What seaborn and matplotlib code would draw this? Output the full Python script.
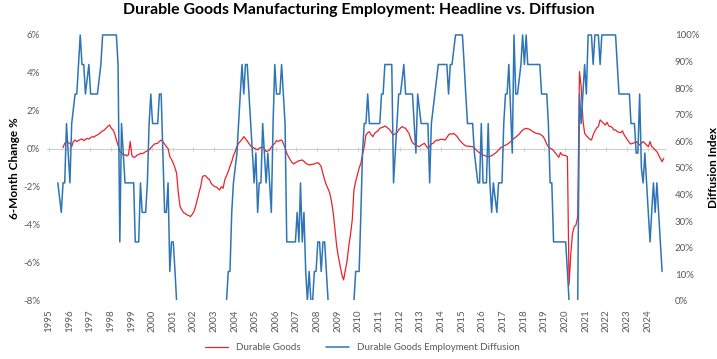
import pandas as pd
import matplotlib
matplotlib.use("Agg")
import matplotlib.pyplot as plt
import matplotlib.dates as mdates
import matplotlib.ticker as mtick
from matplotlib.transforms import Bbox, TransformedBbox
import seaborn as sns

# Durable goods employment, 6-month % change (monthly)
headline_start = "1995-09"
headline = [
    0.07, 0.30, 0.39, 0.33,                                                      # 1995 Sep-Dec
    0.30, 0.12, 0.39, 0.47, 0.39, 0.45, 0.50, 0.53, 0.44, 0.50, 0.56, 0.52,      # 1996
    0.60, 0.65, 0.62, 0.70, 0.74, 0.80, 0.88, 0.95, 1.00, 1.09, 1.20, 1.26,      # 1997
    1.09, 1.00, 0.82, 0.47, 0.20, -0.14, -0.20, -0.32, -0.30, -0.37, -0.30, 0.39,  # 1998
    -0.35, -0.44, -0.42, -0.32, -0.30, -0.23, -0.25, -0.20, -0.14, -0.10, -0.05, 0.05,  # 1999
    0.16, 0.26, 0.28, 0.30, 0.40, 0.47, 0.39, 0.25, 0.12, 0.03, -0.40, -0.55,    # 2000
    -0.75, -1.00, -1.28, -2.33, -3.03, -3.20, -3.35, -3.40, -3.47, -3.50, -3.56, -3.45,  # 2001
    -3.30, -3.00, -2.68, -2.30, -1.98, -1.46, -1.40, -1.42, -1.54, -1.60, -1.80, -1.90,  # 2002
    -1.98, -2.00, -2.07, -2.16, -1.98, -2.07, -1.63, -1.40, -1.19, -0.90, -0.67, -0.35,  # 2003
    -0.14, 0.12, 0.30, 0.40, 0.51, 0.65, 0.55, 0.42, 0.30, 0.16, 0.10, 0.04,     # 2004
    0.00, -0.05, 0.04, 0.08, 0.12, 0.00, -0.14, -0.10, -0.05, 0.10, 0.21, 0.30,  # 2005
    0.44, 0.40, 0.45, 0.47, 0.30, 0.05, -0.23, -0.40, -0.58, -0.70, -0.79, -0.72,  # 2006
    -0.67, -0.62, -0.60, -0.58, -0.65, -0.75, -0.80, -0.84, -0.82, -0.80, -0.79, -0.75,  # 2007
    -0.72, -0.80, -0.93, -1.30, -1.63, -1.90, -2.10, -2.33, -2.80, -3.39, -4.30, -5.14,  # 2008
    -5.70, -6.19, -6.60, -6.89, -6.40, -5.90, -5.14, -4.50, -3.74, -2.16, -1.70, -1.37,  # 2009
    -1.00, -0.75, -0.30, 0.12, 0.74, 0.85, 0.91, 0.75, 0.65, 0.82, 0.90, 0.95,   # 2010
    1.09, 1.12, 1.15, 1.21, 1.15, 1.08, 1.00, 0.85, 0.74, 0.80, 0.86, 1.00,      # 2011
    1.10, 1.18, 1.12, 1.09, 0.95, 0.82, 0.55, 0.33, 0.25, 0.21, 0.15, 0.12,      # 2012
    0.20, 0.25, 0.30, 0.15, 0.04, 0.15, 0.26, 0.30, 0.40, 0.47, 0.45, 0.50,      # 2013
    0.51, 0.50, 0.47, 0.60, 0.74, 0.80, 0.78, 0.82, 0.74, 0.65, 0.50, 0.40,      # 2014
    0.30, 0.22, 0.16, 0.15, 0.14, 0.13, 0.12, 0.05, -0.05, -0.14, -0.20, -0.27,  # 2015
    -0.32, -0.35, -0.38, -0.40, -0.40, -0.35, -0.30, -0.23, -0.15, -0.05, 0.05, 0.10,  # 2016
    0.16, 0.20, 0.25, 0.30, 0.38, 0.47, 0.56, 0.62, 0.70, 0.78, 0.90, 1.00,      # 2017
    1.05, 1.09, 1.06, 1.04, 0.97, 0.91, 0.86, 0.82, 0.80, 0.79, 0.72, 0.65,      # 2018
    0.47, 0.25, 0.12, 0.04, 0.00, -0.09, -0.20, -0.32, -0.44, -0.19, -0.32, -0.32,  # 2019
    -0.35, -0.40, -7.16, -5.49, -4.44, -4.09, -4.00, -3.56, 4.07, 3.28, 1.53, 0.82,  # 2020
    0.70, 0.60, 0.52, 0.47, 0.74, 0.95, 1.10, 1.18, 1.53, 1.44, 1.35, 1.26,      # 2021
    1.40, 1.21, 1.18, 1.14, 1.00, 1.00, 0.91, 0.88, 0.86, 0.95, 0.74, 0.60,      # 2022
    0.47, 0.33, 0.26, 0.30, 0.33, 0.39, 0.30, 0.21, 0.30, 0.39, 0.30, 0.21,      # 2023
    0.12, 0.39, 0.12, 0.05, -0.05, -0.14, -0.32, -0.50, -0.67, -0.49,            # 2024 Jan-Oct
]

# Durable goods employment diffusion index, % (monthly)
diffusion_start = "1995-06"
diffusion = [
    44.4, 38.9, 33.3, 44.4, 44.4, 66.7, 55.6,                                   # 1995 Jun-Dec
    44.4, 66.7, 72.2, 77.8, 77.8, 88.9, 100, 88.9, 88.9, 77.8, 83.3, 88.9,       # 1996
    77.8, 77.8, 77.8, 77.8, 77.8, 83.3, 88.9, 100, 100, 100, 100, 100,           # 1997
    100, 100, 100, 100, 88.9, 22.2, 66.7, 55.6, 44.4, 44.4, 44.4, 44.4,          # 1998
    44.4, 44.4, 22.2, 22.2, 22.2, 44.4, 33.3, 33.3, 33.3, 44.4, 66.7, 77.8,      # 1999
    66.7, 66.7, 66.7, 66.7, 77.8, 77.8, 55.6, 33.3, 33.3, 44.4, 11.1, 22.2,      # 2000
    22.2, 11.1, 0, 0, 0, 0, 0, 0, 0, 0, 0, 0,                                   # 2001
    0, 0, 0, 0, 0, 0, 0, 0, 0, 0, 0, 0,                                         # 2002
    0, 0, 0, 0, 0, 0, 0, 0, 11.1, 11.1, 33.3, 44.4,                             # 2003
    50.0, 55.6, 66.7, 77.8, 88.9, 77.8, 88.9, 88.9, 77.8, 66.7, 55.6, 44.4,      # 2004
    55.6, 33.3, 44.4, 44.4, 66.7, 55.6, 44.4, 55.6, 44.4, 33.3, 66.7, 88.9,      # 2005
    77.8, 77.8, 77.8, 88.9, 77.8, 66.7, 22.2, 22.2, 22.2, 22.2, 22.2, 22.2,      # 2006
    33.3, 22.2, 44.4, 22.2, 33.3, 11.1, 0, 11.1, 0, 0, 11.1, 11.1,              # 2007
    22.2, 22.2, 11.1, 22.2, 22.2, 11.1, 0, 0, 0, 0, 0, 0,                       # 2008
    0, 0, 0, 0, 0, 0, 0, 0, 0, 0, 11.1, 11.1,                                   # 2009
    11.1, 33.3, 55.6, 66.7, 66.7, 77.8, 66.7, 66.7, 66.7, 66.7, 66.7, 66.7,      # 2010
    66.7, 77.8, 77.8, 88.9, 88.9, 88.9, 88.9, 88.9, 44.4, 55.6, 66.7, 77.8,      # 2011
    77.8, 83.3, 88.9, 77.8, 77.8, 77.8, 77.8, 77.8, 66.7, 55.6, 77.8, 72.2,      # 2012
    66.7, 66.7, 66.7, 66.7, 66.7, 44.4, 66.7, 72.2, 77.8, 83.3, 88.9, 88.9,      # 2013
    88.9, 88.9, 88.9, 88.9, 77.8, 88.9, 88.9, 94.4, 100, 100, 100, 100,          # 2014
    100, 88.9, 77.8, 66.7, 66.7, 66.7, 66.7, 55.6, 50.0, 44.4, 44.4, 66.7,       # 2015
    44.4, 44.4, 44.4, 66.7, 44.4, 33.3, 44.4, 38.9, 33.3, 44.4, 44.4, 44.4,      # 2016
    66.7, 77.8, 77.8, 88.9, 72.2, 55.6, 100, 77.8, 77.8, 83.3, 88.9, 100,        # 2017
    88.9, 100, 88.9, 88.9, 88.9, 88.9, 88.9, 88.9, 88.9, 88.9, 77.8, 77.8,       # 2018
    77.8, 77.8, 66.7, 44.4, 44.4, 22.2, 22.2, 22.2, 22.2, 22.2, 22.2, 22.2,      # 2019
    22.2, 11.1, 0, 0, 0, 0, 0, 0, 77.8, 66.7, 77.8, 88.9,                       # 2020
    77.8, 100, 100, 100, 88.9, 100, 100, 100, 88.9, 100, 100, 100,              # 2021
    100, 100, 100, 100, 100, 100, 88.9, 77.8, 77.8, 77.8, 77.8, 77.8,           # 2022
    77.8, 77.8, 66.7, 66.7, 66.7, 55.6, 55.6, 77.8, 50.0, 44.4, 55.6, 44.4,      # 2023
    33.3, 22.2, 33.3, 44.4, 33.3, 44.4, 33.3, 22.2, 11.1,                       # 2024 Jan-Sep
]

RED = "#e8232a"
BLUE = "#2e75b6"
GREY = "#595959"

# monthly observations, plotted mid-month like the source
df_red = pd.DataFrame({
    "date": pd.date_range(headline_start, periods=len(headline), freq="MS") + pd.Timedelta(days=12),
    "value": headline,
})
df_blue = pd.DataFrame({
    "date": pd.date_range(diffusion_start, periods=len(diffusion), freq="MS") + pd.Timedelta(days=12),
    "value": diffusion,
})

sns.set_theme(style="white")
plt.rcParams["font.family"] = ["Lato", "DejaVu Sans"]

fig = plt.figure(figsize=(7.17, 3.59), dpi=100)
ax = fig.add_axes([0.0656, 0.1616, 0.862, 0.741])
ax2 = ax.twinx()

sns.lineplot(data=df_red, x="date", y="value", ax=ax, color=RED, linewidth=0.9,
             label="Durable Goods", legend=False)
sns.lineplot(data=df_blue, x="date", y="value", ax=ax2, color=BLUE, linewidth=1.1,
             label="Durable Goods Employment Diffusion", legend=False)

# like the source, the 0% stretches of the diffusion line vanish into the bottom edge
ax2.lines[0].set_clip_box(TransformedBbox(Bbox([[0, 0.005], [1, 1.02]]), ax2.transAxes))

ax.set_xlim(pd.Timestamp("1994-12-04"), pd.Timestamp("2024-11-05"))
ax.set_ylim(-8, 6)
ax2.set_ylim(0, 100)

ax.yaxis.set_major_locator(mtick.MultipleLocator(2))
ax.yaxis.set_major_formatter(mtick.FuncFormatter(lambda v, _: f"{v:.0f}%"))
ax2.yaxis.set_major_locator(mtick.MultipleLocator(10))
ax2.yaxis.set_major_formatter(mtick.FuncFormatter(lambda v, _: f"{v:.0f}%"))

for a in (ax, ax2):
    for s in a.spines.values():
        s.set_visible(False)
    a.set_xlabel("")

# horizontal axis line sits on 0% with small year ticks
ax.spines["bottom"].set_visible(True)
ax.spines["bottom"].set_position(("data", 0))
ax.spines["bottom"].set_color("#d0d0d0")
ax.spines["bottom"].set_linewidth(0.8)
ax.spines["bottom"].set_zorder(0)
ax.xaxis.set_major_locator(mdates.YearLocator())
ax.tick_params(axis="x", direction="inout", length=3, width=0.8, color="#d0d0d0",
               labelbottom=False, bottom=True)

# year labels at the bottom of the plot area
sec = ax.secondary_xaxis("bottom")
sec.xaxis.set_major_locator(mdates.YearLocator())
sec.xaxis.set_major_formatter(mdates.DateFormatter("%Y"))
sec.tick_params(length=0, pad=6, labelsize=7, labelcolor=GREY, labelrotation=90)
sec.spines["bottom"].set_visible(False)

ax.tick_params(axis="y", length=0, pad=5, labelsize=7, labelcolor=GREY)
ax2.tick_params(axis="y", length=0, pad=7, labelsize=7, labelcolor=GREY)

ax.set_ylabel("6-Month Change %", fontsize=8.5, fontweight="bold", color="black", labelpad=2)
ax2.set_ylabel("Diffusion Index", fontsize=8.5, fontweight="bold", color="black", labelpad=6)

fig.text(0.5, 0.972, "Durable Goods Manufacturing Employment: Headline vs. Diffusion",
         ha="center", va="center", fontsize=11.4, fontweight="bold", color="black")

h1, l1 = ax.get_legend_handles_labels()
h2, l2 = ax2.get_legend_handles_labels()
fig.legend(h1 + h2, l1 + l2, loc="center", bbox_to_anchor=(0.505, 0.031), ncol=2,
           frameon=False, fontsize=7, handlelength=2.4, columnspacing=2.6,
           labelcolor=GREY)

fig.savefig("out.png", dpi=100)
